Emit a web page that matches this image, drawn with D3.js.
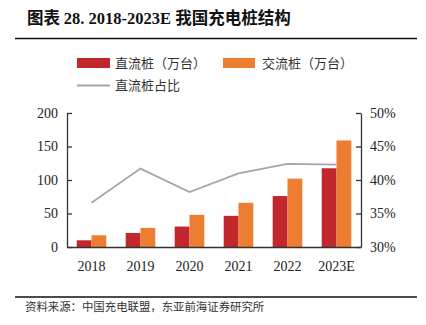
<!DOCTYPE html>
<html>
<head>
<meta charset="utf-8">
<script src="https://cdn.jsdelivr.net/npm/d3@7"></script>
<style>
  body { margin: 0; background: #fff; }
  svg { display: block; }
</style>
</head>
<body>
<script>
const w = 426, h = 325;
const years = ['2018', '2019', '2020', '2021', '2022', '2023E'];
const dcValues = [10, 21, 30.5, 46.5, 76, 117.5];
const acValues = [17.5, 28.5, 48, 66, 102, 159];
const dcShare = [36.6, 41.7, 38.2, 41.0, 42.4, 42.3];
const leftTicks = [0, 50, 100, 150, 200];
const rightTicks = [30, 35, 40, 45, 50];

const red = '#C1272D', orange = '#ED7D31', grey = '#A6A6A6';
const cjk = '"Noto Sans CJK SC", sans-serif';
const serif = '"Liberation Serif", "Times New Roman", serif';

const svg = d3.select('body').append('svg')
  .attr('width', w).attr('height', h);

// title + rules
const title = svg.append('text')
  .attr('x', 27).attr('y', 24)
  .attr('font-family', cjk).attr('font-weight', 'bold')
  .attr('font-size', 16.5).attr('fill', '#111');
title.append('tspan').text('图表 ');
title.append('tspan').attr('font-family', serif).text('28. 2018-2023E ');
title.append('tspan').text('我国充电桩结构');
svg.append('line').attr('x1', 15).attr('x2', 417).attr('y1', 38.5).attr('y2', 38.5)
  .attr('stroke', '#111').attr('stroke-width', 1.5);
svg.append('line').attr('x1', 15).attr('x2', 417).attr('y1', 297).attr('y2', 297)
  .attr('stroke', '#111').attr('stroke-width', 1.5);
svg.append('text')
  .attr('x', 25).attr('y', 311)
  .attr('font-family', cjk).attr('font-size', 11.4).attr('fill', '#333')
  .text('资料来源：中国充电联盟，东亚前海证券研究所');

// scales
const plotL = 67, plotR = 361, plotT = 113, plotB = 247;
const x = d3.scaleBand().domain(years).range([plotL, plotR]).paddingInner(0).paddingOuter(0);
const yL = d3.scaleLinear().domain([0, 200]).range([plotB, plotT]);
const yR = d3.scaleLinear().domain([30, 50]).range([plotB, plotT]);
const barW = 14.8;

// bars
const g = svg.append('g');
g.selectAll('rect.dc').data(dcValues).enter().append('rect')
  .attr('x', (d, i) => x(years[i]) + x.bandwidth() / 2 - barW)
  .attr('y', d => yL(d))
  .attr('width', barW)
  .attr('height', d => yL(0) - yL(d))
  .attr('fill', red);
g.selectAll('rect.ac').data(acValues).enter().append('rect')
  .attr('x', (d, i) => x(years[i]) + x.bandwidth() / 2)
  .attr('y', d => yL(d))
  .attr('width', barW)
  .attr('height', d => yL(0) - yL(d))
  .attr('fill', orange);

// share line
const line = d3.line()
  .x((d, i) => x(years[i]) + x.bandwidth() / 2)
  .y(d => yR(d));
svg.append('path').datum(dcShare)
  .attr('d', line).attr('fill', 'none')
  .attr('stroke', grey).attr('stroke-width', 1.8);

// axes
const axisStyle = sel => {
  sel.select('.domain').attr('stroke', '#333').attr('stroke-width', 1.3);
  sel.selectAll('.tick line').attr('stroke', '#333').attr('stroke-width', 1.3);
  sel.selectAll('text').attr('font-family', serif).attr('font-size', 14).attr('fill', '#222');
};

svg.append('g')
  .attr('transform', `translate(${plotL},0)`)
  .call(d3.axisRight(yL).tickValues(leftTicks).tickSize(5).tickSizeOuter(0))
  .call(axisStyle)
  .call(s => s.selectAll('text').attr('x', -9).attr('text-anchor', 'end'));

svg.append('g')
  .attr('transform', `translate(${plotR},0)`)
  .call(d3.axisLeft(yR).tickValues(rightTicks).tickSize(5).tickSizeOuter(0)
    .tickFormat(d => d + '%'))
  .call(axisStyle)
  .call(s => s.selectAll('text').attr('x', 9).attr('text-anchor', 'start'));

svg.append('g')
  .attr('transform', `translate(0,${plotB})`)
  .call(d3.axisBottom(x).tickSize(0).tickPadding(14))
  .call(axisStyle);

// legend
const lg = svg.append('g').attr('font-family', cjk).attr('font-size', 13).attr('fill', '#333');
lg.append('rect').attr('x', 77).attr('y', 58).attr('width', 33).attr('height', 10).attr('fill', red);
lg.append('text').attr('x', 115).attr('y', 67.5).text('直流桩（万台）');
lg.append('rect').attr('x', 223).attr('y', 58).attr('width', 32).attr('height', 10).attr('fill', orange);
lg.append('text').attr('x', 262).attr('y', 67.5).text('交流桩（万台）');
lg.append('line').attr('x1', 77).attr('x2', 110).attr('y1', 85.5).attr('y2', 85.5)
  .attr('stroke', grey).attr('stroke-width', 1.8);
lg.append('text').attr('x', 115).attr('y', 90).text('直流桩占比');
</script>
</body>
</html>
